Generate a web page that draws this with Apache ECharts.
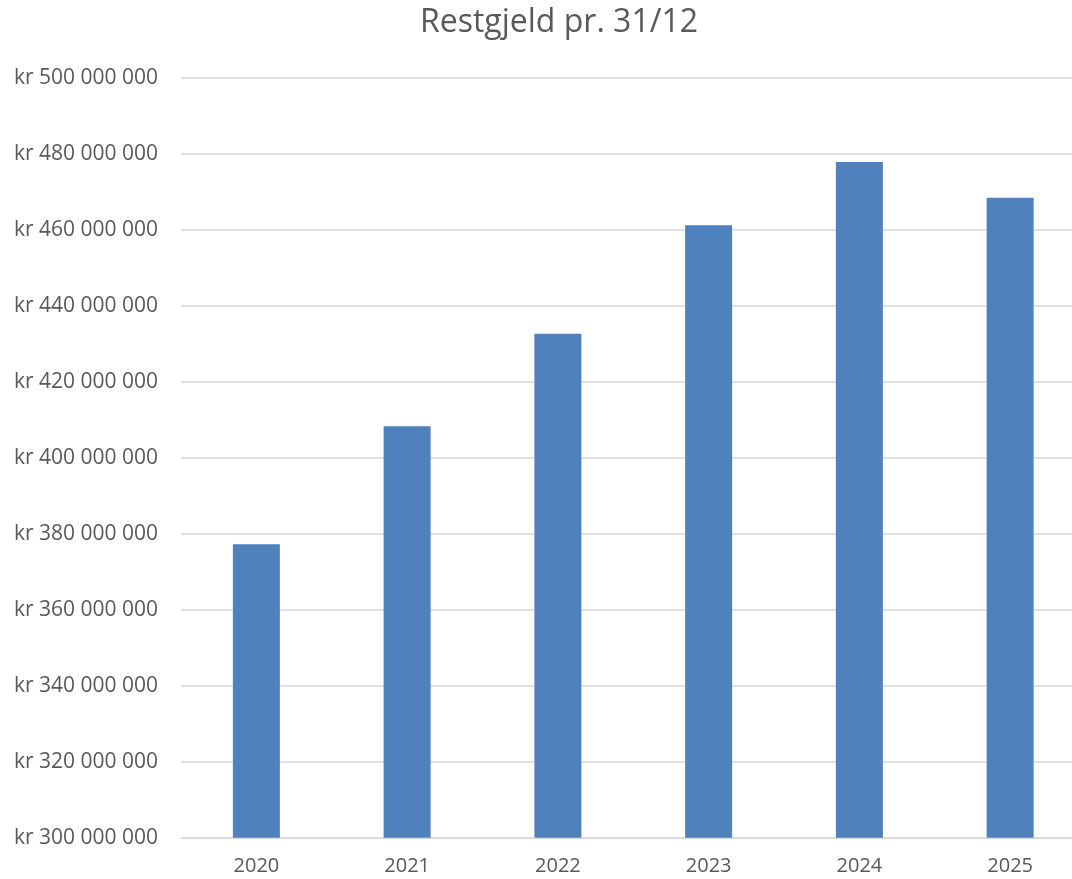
<!DOCTYPE html>
<html>
<head>
<meta charset="utf-8">
<script src="https://cdn.jsdelivr.net/npm/echarts@6/dist/echarts.min.js"></script>
<style>
  html, body { margin: 0; padding: 0; background: #fff; overflow: hidden; }
  #chart { width: 1090px; height: 879px; }
</style>
</head>
<body>
<div id="chart"></div>
<script>
var years = ['2020', '2021', '2022', '2023', '2024', '2025'];
var restgjeld = [377200000, 408300000, 432600000, 461200000, 477800000, 468400000];

// kr 500 000 000 style
function krFormat(v) {
    return 'kr ' + String(Math.round(v)).replace(/\B(?=(\d{3})+(?!\d))/g, ' ');
}

var chart = echarts.init(document.getElementById('chart'));
chart.setOption({
    animation: false,
    title: {
        text: 'Restgjeld pr. 31/12',
        left: 554,
        textAlign: 'center',
        top: 2,
        textStyle: { fontFamily: 'Open Sans', fontSize: 32, fontWeight: 'normal', color: '#595959' }
    },
    grid: { left: 181, top: 77.7, width: 904.5, height: 760 },
    xAxis: {
        type: 'category',
        data: years,
        axisLine: { lineStyle: { color: '#d9d9d9', width: 1.5 } },
        axisTick: { show: false },
        axisLabel: { margin: 19, fontFamily: 'Open Sans', fontSize: 20, color: '#595959' }
    },
    yAxis: {
        type: 'value',
        min: 300000000,
        max: 500000000,
        interval: 20000000,
        axisLine: { show: false },
        axisTick: { show: false },
        splitLine: { lineStyle: { color: '#d9d9d9', width: 1.5 } },
        axisLabel: { margin: 23, fontFamily: 'Open Sans', fontSize: 21, color: '#595959', formatter: krFormat }
    },
    series: [{
        type: 'bar',
        data: restgjeld,
        barWidth: 47,
        itemStyle: { color: '#4f81bd' }
    }]
});
</script>
</body>
</html>
